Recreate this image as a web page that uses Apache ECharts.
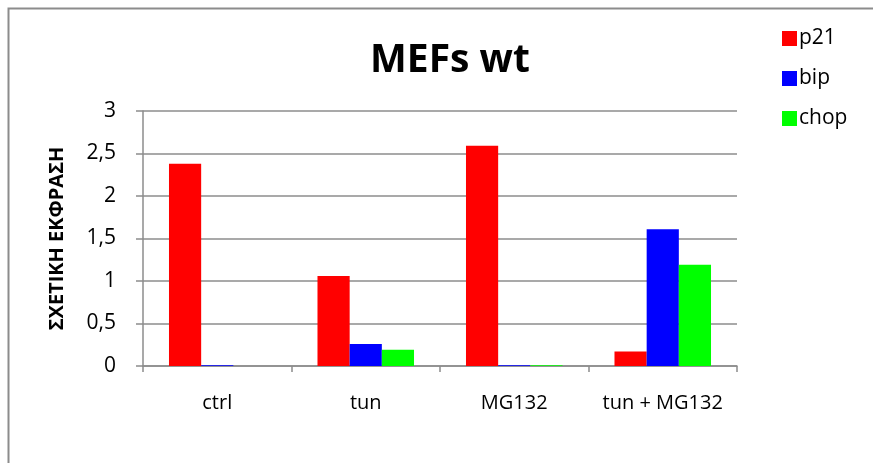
<!DOCTYPE html>
<html>
<head>
<meta charset="utf-8">
<script src="https://cdn.jsdelivr.net/npm/echarts@6/dist/echarts.min.js"></script>
<style>
  html, body { margin: 0; padding: 0; background: #fff; }
  #chart { width: 873px; height: 463px; }
</style>
</head>
<body>
<div id="chart"></div>
<script>
// Treatment groups along the x axis
var categories = ['ctrl', 'tun', 'MG132', 'tun + MG132'];
// Relative expression per gene
var p21 = [2.38, 1.06, 2.59, 0.17];
var bip = [0.01, 0.26, 0.01, 1.61];
var chop = [0, 0.19, 0.01, 1.19];
// Value axis ticks
var yTicks = ['0', '0,5', '1', '1,5', '2', '2,5', '3'];

var FONT = '"Open Sans", "Noto Sans", sans-serif';
var AXIS_GRAY = '#8c8c8c';

var chart = echarts.init(document.getElementById('chart'), null, { renderer: 'canvas' });

function barSeries(name, data, color) {
  return {
    name: name,
    type: 'bar',
    data: data,
    barGap: '0%',
    barCategoryGap: '35%',
    itemStyle: { color: color },
    emphasis: { disabled: true }
  };
}

chart.setOption({
  animation: false,
  backgroundColor: '#fff',
  title: {
    text: 'MEFs wt',
    left: 445,
    textAlign: 'center',
    top: 36,
    textStyle: { fontFamily: FONT, fontWeight: 'bold', fontSize: 39, color: '#000' }
  },
  legend: {
    orient: 'vertical',
    left: 777,
    top: 23,
    itemWidth: 15,
    itemHeight: 15,
    itemGap: 19,
    icon: 'rect',
    textStyle: { fontFamily: FONT, fontSize: 21, color: '#000', padding: [0, 0, 0, -3] },
    data: ['p21', 'bip', 'chop']
  },
  grid: { left: 143, right: 136, top: 111, bottom: 97, containLabel: false },
  xAxis: {
    type: 'category',
    data: categories,
    axisLine: { lineStyle: { color: AXIS_GRAY, width: 1.5 } },
    axisTick: { show: true, length: 6, alignWithLabel: false, lineStyle: { color: AXIS_GRAY, width: 1.5 } },
    axisLabel: { interval: 0, fontFamily: FONT, fontSize: 20, color: '#000', margin: 27 }
  },
  yAxis: {
    type: 'value',
    min: 0,
    max: 3,
    interval: 0.5,
    name: 'ΣΧΕΤΙΚΗ ΕΚΦΡΑΣΗ',
    nameLocation: 'middle',
    nameRotate: 90,
    nameGap: 76,
    nameTextStyle: { fontFamily: FONT, fontWeight: 'bold', fontSize: 20, color: '#000' },
    axisLine: { show: true, lineStyle: { color: AXIS_GRAY, width: 1.5 } },
    axisTick: { show: true, length: 7, lineStyle: { color: AXIS_GRAY, width: 1.5 } },
    axisLabel: {
      fontFamily: FONT, fontSize: 21, color: '#000', margin: 27,
      formatter: function (v) { return yTicks[Math.round(v / 0.5)]; }
    },
    splitLine: { show: true, lineStyle: { color: AXIS_GRAY, width: 1.5 } }
  },
  graphic: [{
    type: 'polyline',
    shape: { points: [[8.5, 463], [8.5, 8.5], [873, 8.5]] },
    style: { stroke: '#8c8c8c', lineWidth: 2, fill: null },
    silent: true
  }],
  series: [
    barSeries('p21', p21, '#ff0000'),
    barSeries('bip', bip, '#0000ff'),
    barSeries('chop', chop, '#00ff00')
  ]
});
</script>
</body>
</html>
